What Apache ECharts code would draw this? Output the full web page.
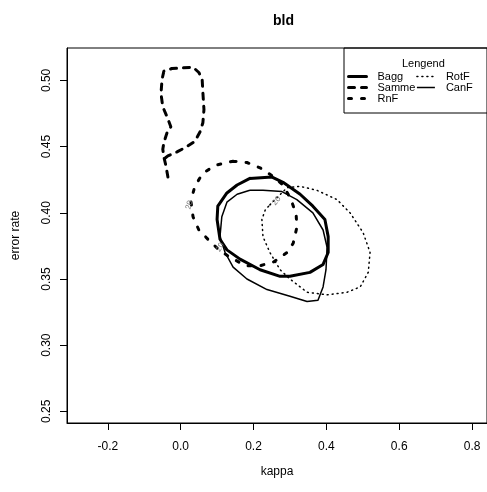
<!DOCTYPE html>
<html>
<head>
<meta charset="utf-8">
<script src="https://cdn.jsdelivr.net/npm/echarts@6/dist/echarts.min.js"></script>
<style>
  html, body { margin: 0; padding: 0; background: #fff; }
  #main { width: 487px; height: 492px; }
</style>
</head>
<body>
<div id="main"></div>
<script>
// contour lines (level 20)
var baggKappa = [0.190, 0.251, 0.281, 0.328, 0.363, 0.396, 0.405, 0.405, 0.391, 0.355, 0.300, 0.273, 0.218, 0.163, 0.127, 0.108, 0.100, 0.102, 0.127, 0.155, 0.190];
var baggErr   = [0.426, 0.427, 0.423, 0.414, 0.405, 0.395, 0.382, 0.370, 0.361, 0.355, 0.352, 0.352, 0.357, 0.365, 0.372, 0.380, 0.395, 0.405, 0.415, 0.421, 0.426];

var sammeKappa = [-0.035, -0.040, -0.046, -0.049, -0.046, -0.038, -0.027, -0.038, -0.049, -0.054, -0.051, -0.046, -0.024, 0.034, 0.050, 0.059, 0.061, 0.064, 0.061, 0.053, 0.039, 0.017, -0.010, -0.035, -0.049];
var sammeErr   = [0.427, 0.435, 0.442, 0.448, 0.453, 0.460, 0.465, 0.473, 0.480, 0.490, 0.501, 0.507, 0.509, 0.510, 0.506, 0.501, 0.491, 0.478, 0.468, 0.461, 0.454, 0.450, 0.446, 0.443, 0.440];

var rnfKappa = [0.144, 0.182, 0.218, 0.251, 0.281, 0.303, 0.317, 0.319, 0.309, 0.292, 0.256, 0.218, 0.179, 0.138, 0.105, 0.075, 0.050, 0.034, 0.028, 0.039, 0.061, 0.097, 0.144];
var rnfErr   = [0.439, 0.438, 0.434, 0.428, 0.421, 0.410, 0.399, 0.389, 0.377, 0.370, 0.363, 0.360, 0.360, 0.366, 0.372, 0.380, 0.387, 0.397, 0.409, 0.420, 0.430, 0.436, 0.439];

var rotfKappa = [0.245, 0.292, 0.328, 0.374, 0.429, 0.465, 0.501, 0.520, 0.515, 0.493, 0.457, 0.402, 0.347, 0.300, 0.273, 0.245, 0.226, 0.223, 0.232, 0.245];
var rotfErr   = [0.406, 0.419, 0.420, 0.417, 0.410, 0.400, 0.385, 0.370, 0.355, 0.344, 0.340, 0.338, 0.340, 0.350, 0.357, 0.370, 0.382, 0.395, 0.402, 0.406];

var canfKappa = [0.190, 0.226, 0.278, 0.319, 0.363, 0.391, 0.402, 0.399, 0.391, 0.377, 0.347, 0.300, 0.237, 0.182, 0.144, 0.122, 0.108, 0.113, 0.127, 0.155, 0.190];
var canfErr   = [0.417, 0.417, 0.416, 0.410, 0.400, 0.387, 0.374, 0.357, 0.344, 0.334, 0.333, 0.337, 0.342, 0.350, 0.359, 0.370, 0.382, 0.397, 0.408, 0.414, 0.417];

var xTicks = [-0.2, 0.0, 0.2, 0.4, 0.6, 0.8];
var yTicks = [0.25, 0.30, 0.35, 0.40, 0.45, 0.50];

function pts(xs, ys) {
  return xs.map(function (x, i) { return [x, ys[i]]; });
}

// "20" labels on the contours
function lvl(x, y, rot) {
  return {
    coord: [x, y], symbol: 'circle', symbolSize: 0,
    label: { show: true, formatter: '20', position: 'inside', rotate: rot,
             fontSize: 8, color: '#777', fontFamily: 'Liberation Sans, Arial' }
  };
}

var myChart = echarts.init(document.getElementById('main'));

var option = {
  animation: false,
  backgroundColor: '#fff',
  title: [
    { text: 'bld', left: 268, top: 9,
      textStyle: { fontSize: 14, fontWeight: 'bold', color: '#000', fontFamily: 'Liberation Sans, Arial' } },
    { text: 'Lengend', left: 397, top: 53,
      textStyle: { fontSize: 11, fontWeight: 'normal', color: '#000', fontFamily: 'Liberation Sans, Arial' } }
  ],
  legend: {
    orient: 'vertical',
    left: 344, top: 48,
    height: 34,
    padding: [23, 30, 9, 3],
    itemWidth: 18, itemHeight: 8, itemGap: 0,
    borderColor: '#000', borderWidth: 1,
    itemStyle: { opacity: 0 },
    lineStyle: { width: 'inherit' },
    textStyle: { fontSize: 11, color: '#000', padding: [0, 0, 0, 6],
                 fontFamily: 'Liberation Sans, Arial' },
    data: ['Bagg', 'Samme', 'RnF', 'RotF', 'CanF']
  },
  grid: { left: 67, right: 0, top: 48, bottom: 69, show: true, borderColor: '#000', borderWidth: 1 },
  xAxis: {
    type: 'value', min: -0.312, max: 0.841,
    name: 'kappa', nameLocation: 'middle', nameGap: 43,
    nameTextStyle: { fontSize: 12, color: '#000', fontFamily: 'Liberation Sans, Arial' },
    splitLine: { show: false },
    axisLine: { show: true, onZero: false, lineStyle: { color: '#000' } },
    axisTick: { show: true, length: 7, customValues: xTicks, lineStyle: { color: '#000' } },
    axisLabel: { customValues: xTicks, margin: 18, fontSize: 12, color: '#000',
                 fontFamily: 'Liberation Sans, Arial',
                 formatter: function (v) { return v.toFixed(1); } }
  },
  yAxis: {
    type: 'value', min: 0.2412, max: 0.5245,
    name: 'error rate', nameLocation: 'middle', nameGap: 45,
    nameTextStyle: { fontSize: 12, color: '#000', fontFamily: 'Liberation Sans, Arial' },
    splitLine: { show: false },
    axisLine: { show: true, onZero: false, lineStyle: { color: '#000' } },
    axisTick: { show: true, length: 7, customValues: yTicks, lineStyle: { color: '#000' } },
    axisLabel: { customValues: yTicks, margin: 14, rotate: 90, fontSize: 12, color: '#000',
                 fontFamily: 'Liberation Sans, Arial',
                 formatter: function (v) { return v.toFixed(2); } }
  },
  series: [
    { name: 'Bagg', type: 'line', symbol: 'none', data: pts(baggKappa, baggErr),
      lineStyle: { color: '#000', width: 3, cap: 'round', join: 'round' }, itemStyle: { color: '#000' },
      markPoint: { data: [lvl(baggKappa[15], baggErr[15] - 0.006, 60)] } },
    { name: 'Samme', type: 'line', symbol: 'none', data: pts(sammeKappa, sammeErr),
      lineStyle: { color: '#000', width: 3, type: [6, 7], cap: 'round', join: 'round' }, itemStyle: { color: '#000' } },
    { name: 'RnF', type: 'line', symbol: 'none', data: pts(rnfKappa, rnfErr),
      lineStyle: { color: '#000', width: 3, type: [3, 10], cap: 'round', join: 'round' }, itemStyle: { color: '#000' },
      markPoint: { data: [lvl(rnfKappa[18] - 0.004, rnfErr[18] - 0.003, 75)] } },
    { name: 'RotF', type: 'line', symbol: 'none', data: pts(rotfKappa, rotfErr),
      lineStyle: { color: '#000', width: 1.5, type: [1, 4], cap: 'round' }, itemStyle: { color: '#000' },
      markPoint: { data: [lvl(rotfKappa[0] + 0.018, rotfErr[0] + 0.003, 50)] } },
    { name: 'CanF', type: 'line', symbol: 'none', data: pts(canfKappa, canfErr),
      lineStyle: { color: '#000', width: 1.5, join: 'round' }, itemStyle: { color: '#000' } }
  ]
};

myChart.setOption(option);
</script>
</body>
</html>
